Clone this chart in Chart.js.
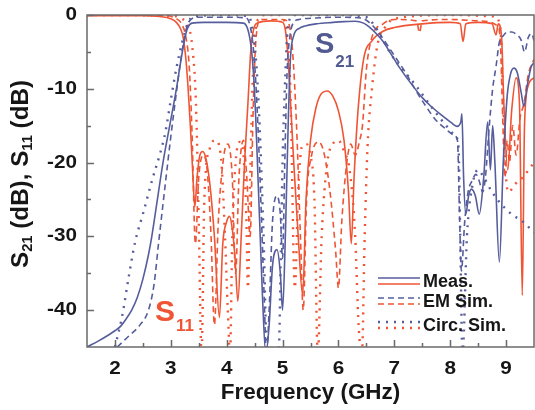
<!DOCTYPE html>
<html>
<head>
<meta charset="utf-8">
<script src="https://cdn.jsdelivr.net/npm/chart.js@4.4.1/dist/chart.umd.min.js"></script>
<style>
  html, body { margin: 0; padding: 0; background: #ffffff; }
  #wrap { width: 535px; height: 410px; }
</style>
</head>
<body>
<div id="wrap"><canvas id="sparams" width="535" height="410"></canvas></div>
<script>
// ---- ticks ----
const xMajorTicks = [2, 3, 4, 5, 6, 7, 8, 9];
const xMinorTicks = [2.5, 3.5, 4.5, 5.5, 6.5, 7.5, 8.5];
const yMajorTicks = [0, -10, -20, -30, -40];
const yMinorTicks = [-5, -15, -25, -35];

// ---- S21, measured (solid blue) ----
const s21MeasF = [1.5, 1.7, 1.9, 2.0, 2.1, 2.2, 2.3, 2.4, 2.5, 2.6, 2.66, 2.76, 2.86, 2.98, 3.1, 3.18, 3.25, 3.3, 3.38, 3.6, 4.0, 4.3,
  4.38, 4.44, 4.48, 4.52, 4.56, 4.6, 4.64, 4.7, 4.76, 4.82, 4.9, 4.96, 5.0, 5.05, 5.1, 5.14, 5.2, 5.3, 5.4, 5.6, 5.9, 6.1, 6.3,
  6.45, 6.55, 6.7, 6.8, 6.95, 7.1, 7.3, 7.5, 7.66, 7.85, 8.02, 8.12, 8.19, 8.21, 8.24, 8.28, 8.33, 8.38, 8.45, 8.52, 8.6, 8.67,
  8.72, 8.76, 8.8, 8.88, 8.95, 9.02, 9.08, 9.14, 9.2, 9.27, 9.32, 9.38, 9.45, 9.5];
const s21MeasDb = [-45, -44.2, -43.3, -42.8, -42.2, -41.2, -40, -38.3, -35.8, -32.5, -30, -25, -20, -15, -10, -6.2, -3.2, -1.8, -1.1, -1.0, -1.0, -1.1,
  -2, -4.5, -8, -14, -22, -30, -38, -46, -42, -34, -31.8, -35, -40, -30, -15, -6, -2.8, -1.8, -1.5, -1.2, -1.0, -0.9, -0.85,
  -1.1, -1.6, -2.7, -3.6, -5.4, -7.2, -9.3, -11.2, -12.4, -13.6, -14.6, -15.1, -14.5, -13.4, -22, -27, -24.5, -23.6, -24.5, -27, -22, -14.5,
  -21, -15, -20, -33.5, -20, -11, -8, -7.2, -7.8, -10.5, -12.4, -9.5, -7, -6.5];

// ---- S21, EM simulation (dashed blue) ----
const s21EmF = [2.04, 2.25, 2.45, 2.6, 2.7, 2.78, 2.9, 3.0, 3.1, 3.2, 3.28, 3.36, 3.5, 4.0, 4.35, 4.42, 4.47, 4.52, 4.57, 4.62, 4.67, 4.71,
  4.76, 4.82, 4.9, 4.96, 5.0, 5.04, 5.08, 5.13, 5.2, 5.3, 5.6, 6.0, 6.4, 6.55, 6.7, 6.85, 7.0, 7.2, 7.39, 7.55, 7.75, 7.93, 8.05,
  8.13, 8.17, 8.2, 8.26, 8.32, 8.39, 8.46, 8.52, 8.58, 8.63, 8.7, 8.76, 8.82, 8.88, 8.95, 9.03, 9.1, 9.18, 9.27, 9.33, 9.4, 9.46, 9.5];
const s21EmDb = [-45, -43.5, -42, -40, -36.5, -31, -23, -16.5, -10.5, -5, -1.8, -0.6, -0.3, -0.3, -0.4, -1.5, -4, -9, -17, -27, -38, -46,
  -40, -28, -24.5, -27, -33, -20, -8, -3, -1, -0.6, -0.4, -0.3, -0.4, -1, -2.2, -3.8, -5.5, -7.8, -10.3, -12.2, -14.3, -15.5, -16.2,
  -17, -28, -34.7, -28, -24, -22.5, -21.6, -22.5, -24, -22, -15, -10, -7, -3.7, -2.8, -2.3, -2.3, -2.6, -3.4, -5, -3, -2.5, -3.5];

// ---- S21, circuit simulation (dotted blue) ----
const s21CircF = [2.0, 2.13, 2.24, 2.36, 2.5, 2.68, 2.8, 2.9, 3.0, 3.1, 3.2, 3.3, 3.4, 4.0, 4.4, 4.45, 4.5, 4.55, 4.6, 4.66, 4.72,
  4.8, 4.93, 4.97, 5.0, 5.04, 5.08, 5.13, 5.2, 6.0, 6.5, 6.65, 6.77, 6.9, 7.05, 7.25, 7.41, 7.6, 7.8, 7.95, 8.1, 8.15, 8.18, 8.22,
  8.3, 8.4, 8.5, 8.6, 8.75, 8.9, 9.1, 9.3, 9.5];
const s21CircDb = [-45, -40.8, -35.8, -30.8, -27, -22, -19, -16, -11.5, -7.2, -3.8, -1.2, -0.2, 0, -0.2, -1.5, -4, -9, -17, -30, -46,
  -48, -46, -32, -20, -10, -3, -0.5, 0, 0, -0.3, -1.5, -3, -4.8, -6.5, -8.3, -9.8, -11.8, -13.8, -15.2, -16.5, -18, -30, -46,
  -30, -23, -21, -22, -24, -25.5, -27, -28, -29.5];

// ---- S11, measured (solid red) ----
const s11MeasF = [1.5, 2.5, 2.8, 3.0, 3.1, 3.17, 3.22, 3.27, 3.31, 3.35, 3.39, 3.43, 3.47, 3.52, 3.57, 3.63, 3.7, 3.78, 3.87, 3.93,
  4.0, 4.05, 4.1, 4.15, 4.2, 4.26, 4.32, 4.38, 4.43, 4.48, 4.55, 4.8, 5.0, 5.05, 5.09, 5.13, 5.2, 5.28, 5.36, 5.42, 5.5, 5.6,
  5.7, 5.8, 5.9, 6.0, 6.1, 6.18, 6.23, 6.28, 6.35, 6.45, 6.6, 6.8, 7.0, 7.5, 8.0, 8.18, 8.23, 8.28, 8.5, 8.75, 8.82, 8.86,
  8.92, 8.96, 9.03, 9.1, 9.18, 9.24, 9.29, 9.33, 9.4, 9.5];
const s11MeasDb = [-0.1, -0.1, -0.2, -0.5, -1, -1.8, -3, -6, -10, -15, -21, -26, -22, -19, -18.5, -19.5, -23, -30, -41, -31,
  -28, -27.3, -29, -33, -38.8, -30, -20, -12, -5, -2, -1.1, -0.8, -1, -2, -5, -10, -20, -30, -38, -25, -17, -12.5,
  -10.6, -10.3, -11, -13, -17, -24, -31, -22, -13, -6, -3.5, -2.2, -1.7, -1.2, -1, -1.2, -3.6, -1.2, -1, -1.2, -2.7, -1.2,
  -3, -12, -21, -13, -8.5, -12, -38, -15, -9.5, -8.5];

// ---- S11, EM simulation (dashed red) ----
const s11EmF = [1.5, 2.9, 3.1, 3.2, 3.27, 3.33, 3.38, 3.44, 3.5, 3.58, 3.65, 3.72, 3.78, 3.85, 3.95, 4.02, 4.1, 4.16, 4.22, 4.3,
  4.36, 4.42, 4.47, 4.51, 4.55, 4.6, 5.0, 5.1, 5.18, 5.25, 5.32, 5.37, 5.43, 5.52, 5.65, 5.75, 5.85, 5.95, 6.0, 6.06, 6.15,
  6.22, 6.3, 6.38, 6.43, 6.5, 6.6, 6.8, 7.0, 7.4, 7.45, 7.5, 8.0, 8.5, 8.85, 8.9, 8.94, 8.98, 9.02, 9.06, 9.12, 9.18, 9.25,
  9.32, 9.4, 9.5];
const s11EmDb = [0, -0.1, -0.5, -1.3, -3, -7, -16, -31, -22, -19, -21, -30, -42, -28, -19, -17.5, -22, -35, -22, -17,
  -22, -30, -14, -5, -1.5, -0.6, -0.6, -1, -5, -15, -30, -40, -25, -19, -17.2, -19, -24, -32, -37, -28, -20,
  -17.5, -19, -17, -15, -7.4, -3, -1.2, -0.6, -0.8, -2.4, -0.8, -0.6, -0.8, -1.5, -4, -14, -22, -17, -20, -15, -19, -14,
  -12, -8, -6];

// ---- S11, circuit simulation (dotted red) ----
const s11CircF = [1.5, 3.0, 3.2, 3.3, 3.38, 3.45, 3.5, 3.55, 3.6, 3.7, 3.8, 3.9, 3.97, 4.02, 4.06, 4.1, 4.16, 4.24, 4.3, 4.35,
  4.38, 4.42, 4.47, 4.52, 4.58, 4.7, 4.95, 5.02, 5.08, 5.14, 5.22, 5.28, 5.34, 5.42, 5.5, 5.57, 5.63, 5.7, 5.8, 5.9, 6.0,
  6.1, 6.2, 6.3, 6.36, 6.42, 6.47, 6.52, 6.6, 6.7, 6.85, 7.0, 8.0, 8.8, 8.9, 8.95, 9.0, 9.05, 9.15, 9.3, 9.5];
const s11CircDb = [0, -0.1, -0.5, -1.3, -4, -12, -28, -46, -25, -18, -17, -19.5, -30, -40, -46, -30, -20, -17.2, -19, -27,
  -37, -22, -8, -2, -0.4, 0, 0, -0.5, -3, -10, -37, -24, -18, -17.5, -19, -25, -46, -30, -20, -17.5, -17,
  -18.5, -21, -30, -42, -46, -30, -18, -10, -4, -1.5, -0.5, 0, -0.2, -2, -12, -22, -24, -23, -22, -20];

// ---- styles ----
const BLUE = '#565d9c';
const RED = '#ef5535';
const AXIS_COLOR = '#6a6a6a';
const TEXT_COLOR = '#161616';
const FONT = "'Liberation Sans', Arial, sans-serif";
const DASH = { solid: [], dashed: [6, 4], dotted: [2, 6] };
const WIDTH = { solid: 1.6, dashed: 1.6, dotted: 2.4 };

function toPoints(f, db) {
  return f.map((v, i) => ({ x: v, y: db[i] }));
}

function makeDataset(label, f, db, color, style) {
  return {
    label: label,
    data: toPoints(f, db),
    borderColor: color,
    backgroundColor: color,
    borderWidth: WIDTH[style],
    borderDash: DASH[style],
    borderCapStyle: 'butt',
    pointRadius: 0,
    fill: false,
    cubicInterpolationMode: 'monotone'
  };
}

// text squeezed/stretched horizontally (the reference figure is slightly distorted)
function drawText(ctx, str, x, y, font, sx, align) {
  ctx.save();
  ctx.font = font;
  const w = ctx.measureText(str).width * sx;
  const x0 = align === 'center' ? x - w / 2 : align === 'right' ? x - w : x;
  ctx.translate(x0, y);
  ctx.scale(sx, 1);
  ctx.textAlign = 'left';
  ctx.fillText(str, 0, 0);
  ctx.restore();
  return w;
}

const decorPlugin = {
  id: 'decor',
  afterDatasetsDraw(chart) {
    const { ctx, chartArea: a, scales: { x, y } } = chart;
    ctx.save();

    // frame
    ctx.strokeStyle = AXIS_COLOR;
    ctx.lineWidth = 1.5;
    ctx.setLineDash([]);
    ctx.strokeRect(a.left, a.top, a.right - a.left, a.bottom - a.top);

    // inward ticks
    ctx.beginPath();
    xMajorTicks.forEach(v => { const px = Math.round(x.getPixelForValue(v)) + 0.5; ctx.moveTo(px, a.bottom); ctx.lineTo(px, a.bottom - 7); });
    xMinorTicks.forEach(v => { const px = Math.round(x.getPixelForValue(v)) + 0.5; ctx.moveTo(px, a.bottom); ctx.lineTo(px, a.bottom - 4); });
    yMajorTicks.forEach(v => { const py = Math.round(y.getPixelForValue(v)) + 0.5; ctx.moveTo(a.left, py); ctx.lineTo(a.left + 7, py); });
    yMinorTicks.forEach(v => { const py = Math.round(y.getPixelForValue(v)) + 0.5; ctx.moveTo(a.left, py); ctx.lineTo(a.left + 4, py); });
    ctx.stroke();

    // tick labels
    ctx.fillStyle = TEXT_COLOR;
    ctx.textBaseline = 'middle';
    yMajorTicks.forEach(v => drawText(ctx, String(v), a.left - 10, y.getPixelForValue(v), 'bold 18px ' + FONT, 1.15, 'right'));
    ctx.textBaseline = 'alphabetic';
    xMajorTicks.forEach(v => drawText(ctx, String(v), x.getPixelForValue(v), 374, 'bold 18px ' + FONT, 1.15, 'center'));

    // axis titles
    drawText(ctx, 'Frequency (GHz)', (a.left + a.right) / 2, 399, 'bold 22px ' + FONT, 1.02, 'center');

    const runs = [['S', 0], ['21', 1], [' (dB), S', 0], ['11', 1], [' (dB)', 0]];
    const mainFont = 'bold 23px ' + FONT, subFont = 'bold 14px ' + FONT;
    let total = 0;
    runs.forEach(r => { ctx.font = r[1] ? subFont : mainFont; total += ctx.measureText(r[0]).width; });
    const ySx = 188 / total;
    ctx.save();
    ctx.translate(28, 174);
    ctx.rotate(-Math.PI / 2);
    ctx.scale(ySx, 1);
    let cx = -total / 2;
    runs.forEach(r => {
      ctx.font = r[1] ? subFont : mainFont;
      ctx.fillText(r[0], cx, r[1] ? 4 : 0);
      cx += ctx.measureText(r[0]).width;
    });
    ctx.restore();

    // curve annotations
    ctx.fillStyle = '#525a92';
    let w = drawText(ctx, 'S', 315, 53, 'bold 29px ' + FONT, 1.0, 'left');
    drawText(ctx, '21', 315 + w + 1, 67, 'bold 17px ' + FONT, 1.0, 'left');
    ctx.fillStyle = RED;
    w = drawText(ctx, 'S', 155, 321, 'bold 30px ' + FONT, 1.0, 'left');
    drawText(ctx, '11', 155 + w + 1, 331, 'bold 17px ' + FONT, 1.0, 'left');

    // legend
    const legendRows = [['Meas.', 'solid', 281], ['EM Sim.', 'dashed', 301], ['Circ. Sim.', 'dotted', 325]];
    legendRows.forEach(([label, style, cy]) => {
      ctx.lineWidth = WIDTH[style];
      ctx.setLineDash(DASH[style]);
      ctx.strokeStyle = BLUE;
      ctx.beginPath(); ctx.moveTo(378, cy - 3); ctx.lineTo(420, cy - 3); ctx.stroke();
      ctx.strokeStyle = RED;
      ctx.beginPath(); ctx.moveTo(378, cy + 3); ctx.lineTo(420, cy + 3); ctx.stroke();
      ctx.setLineDash([]);
      ctx.fillStyle = TEXT_COLOR;
      ctx.textBaseline = 'middle';
      drawText(ctx, label, 423, cy + 1, 'bold 18px ' + FONT, 1.0, 'left');
    });

    ctx.restore();
  }
};

const chart = new Chart(document.getElementById('sparams'), {
  type: 'line',
  data: {
    datasets: [
      makeDataset('S21 Meas.', s21MeasF, s21MeasDb, BLUE, 'solid'),
      makeDataset('S21 EM Sim.', s21EmF, s21EmDb, BLUE, 'dashed'),
      makeDataset('S21 Circ. Sim.', s21CircF, s21CircDb, BLUE, 'dotted'),
      makeDataset('S11 Meas.', s11MeasF, s11MeasDb, RED, 'solid'),
      makeDataset('S11 EM Sim.', s11EmF, s11EmDb, RED, 'dashed'),
      makeDataset('S11 Circ. Sim.', s11CircF, s11CircDb, RED, 'dotted')
    ]
  },
  options: {
    responsive: false,
    animation: false,
    devicePixelRatio: 1,
    layout: { padding: { left: 0, top: 15, right: 1, bottom: 0 } },
    plugins: { legend: { display: false }, tooltip: { enabled: false } },
    scales: {
      x: {
        type: 'linear',
        min: 1.5,
        max: 9.5,
        grid: { display: false, drawTicks: false },
        border: { display: false },
        ticks: { display: false },
        afterFit: s => { s.height = 63; }
      },
      y: {
        type: 'linear',
        min: -45,
        max: 0,
        grid: { display: false, drawTicks: false },
        border: { display: false },
        ticks: { display: false },
        afterFit: s => { s.width = 87; }
      }
    }
  },
  plugins: [decorPlugin]
});
</script>
</body>
</html>
